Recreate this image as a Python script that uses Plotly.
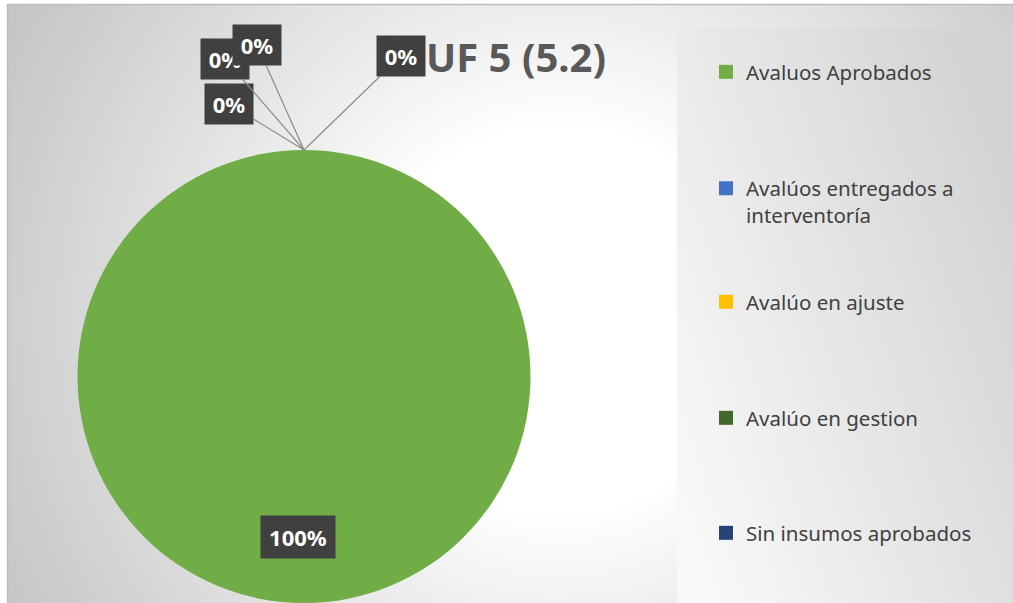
import base64
import plotly.graph_objects as go

# ---- data ----
categories = ["Avaluos Aprobados", "Avalúos entregados a interventoría",
              "Avalúo en ajuste", "Avalúo en gestion", "Sin insumos aprobados"]
legend_labels = ["Avaluos Aprobados", "Avalúos entregados a<br>interventoría",
                 "Avalúo en ajuste", "Avalúo en gestion", "Sin insumos aprobados"]
values = [100, 0, 0, 0, 0]
colors = ["#70AD47", "#4472C4", "#FFC000", "#43682B", "#264478"]
title_text = "UF 5 (5.2)"

# ---- layout constants ----
W, H = 1013, 603
FONT = "Noto Sans"
pie_left, pie_right, pie_top, pie_bottom = 76, 532, 150, 603
dom_x = [pie_left / W, pie_right / W]
dom_y = [1 - pie_bottom / H, 1 - pie_top / H]
radius_px = min(pie_right - pie_left, pie_bottom - pie_top) / 2
cx = (dom_x[0] + dom_x[1]) / 2
top_y = dom_y[1]
cy = top_y - radius_px / H

# label offsets (pixels from the pie's top point) for zero slices
zero_offsets = [(-75, -46), (-79, -91), (-47, -105), (97, -94)]
legend_centers = [72, 202, 302, 418, 533]

svg = f"""<svg xmlns='http://www.w3.org/2000/svg' width='{W}' height='{H}' viewBox='0 0 {W} {H}' preserveAspectRatio='none'>
<defs>
<radialGradient id='r' gradientUnits='userSpaceOnUse' cx='560' cy='320' r='640'>
<stop offset='0' stop-color='#ffffff'/>
<stop offset='0.3' stop-color='#ffffff'/>
<stop offset='0.5' stop-color='#ececec'/>
<stop offset='0.85' stop-color='#cfcfcf'/>
<stop offset='1' stop-color='#c4c4c4'/>
</radialGradient>
<linearGradient id='l' x1='0' y1='0.8' x2='1' y2='0.2'>
<stop offset='0' stop-color='#f8f8f8'/>
<stop offset='1' stop-color='#d2d2d2'/>
</linearGradient>
<filter id='s'><feGaussianBlur stdDeviation='2'/></filter>
</defs>
<rect width='{W}' height='{H}' fill='#ffffff'/>
<rect x='7' y='4' width='{W-7}' height='{H-4}' fill='url(#r)'/>
<rect x='677' y='28' width='{W-677}' height='{H-28}' fill='url(#l)'/>
<line x1='7' y1='4.5' x2='{W}' y2='4.5' stroke='#bdbdbd' stroke-width='1.5'/>
<line x1='7.5' y1='4' x2='7.5' y2='{H}' stroke='#bdbdbd' stroke-width='1.5'/>
</svg>"""
svg_uri = "data:image/svg+xml;base64," + base64.b64encode(svg.encode()).decode()

fig = go.Figure()
fig.add_trace(go.Pie(
    labels=categories, values=values, sort=False, direction="clockwise",
    marker=dict(colors=colors, line=dict(width=0)),
    textinfo="none", showlegend=False,
    domain=dict(x=dom_x, y=dom_y),
))

legend_names = ["legend", "legend2", "legend3", "legend4", "legend5"]
for lab, col, ln in zip(legend_labels, colors, legend_names):
    fig.add_trace(go.Scatter(
        x=[None], y=[None], mode="markers", name=lab, legend=ln,
        marker=dict(symbol="square", size=14, color=col, line=dict(width=0)),
        hoverinfo="skip",
    ))

total = sum(values)
annotations = []
zi = 0
for i, v in enumerate(values):
    txt = f"{v / total * 100:.0f}%"
    if v > 0:
        annotations.append(dict(
            x=cx - 6 / W, y=cy - 0.71 * radius_px / H, xref="paper", yref="paper",
            xanchor="center", yanchor="middle",
            text=txt, showarrow=False, bgcolor="#404040",
            width=72, height=40,
            font=dict(family=FONT, size=22, color="white", weight="bold"),
        ))
    else:
        ax, ay = zero_offsets[zi]
        zi += 1
        annotations.append(dict(
            x=cx, y=top_y, xref="paper", yref="paper",
            ax=ax, ay=ay, text=txt, showarrow=True, arrowhead=0,
            arrowwidth=1.2, arrowcolor="#8a8a8a", standoff=0,
            bgcolor="#404040", width=46, height=38,
            font=dict(family=FONT, size=22, color="white", weight="bold"),
        ))

layout_legends = {}
for ln, yc in zip(legend_names, legend_centers):
    layout_legends[ln] = dict(
        x=706 / W, xanchor="left", y=1 - yc / H, yanchor="middle",
        bgcolor="rgba(0,0,0,0)", valign="top",
        font=dict(family=FONT, size=20.5, color="#404040"),
    )

fig.update_layout(
    width=W, height=H, autosize=False,
    margin=dict(l=0, r=0, t=0, b=0),
    paper_bgcolor="white", plot_bgcolor="rgba(0,0,0,0)",
    xaxis=dict(visible=False), yaxis=dict(visible=False),
    title=dict(text=f"<b>{title_text}</b>", x=516 / W, y=1 - 58 / H,
               xref="container", yref="container",
               xanchor="center", yanchor="middle",
               font=dict(family=FONT, size=40, color="#595959")),
    images=[dict(source=svg_uri, xref="paper", yref="paper", x=0, y=1,
                 sizex=1, sizey=1, sizing="stretch", layer="below",
                 xanchor="left", yanchor="top")],
    annotations=annotations,
    **layout_legends,
)

fig.write_html("out.html", config={"displayModeBar": False},
               post_script="document.body.style.margin='0';")
